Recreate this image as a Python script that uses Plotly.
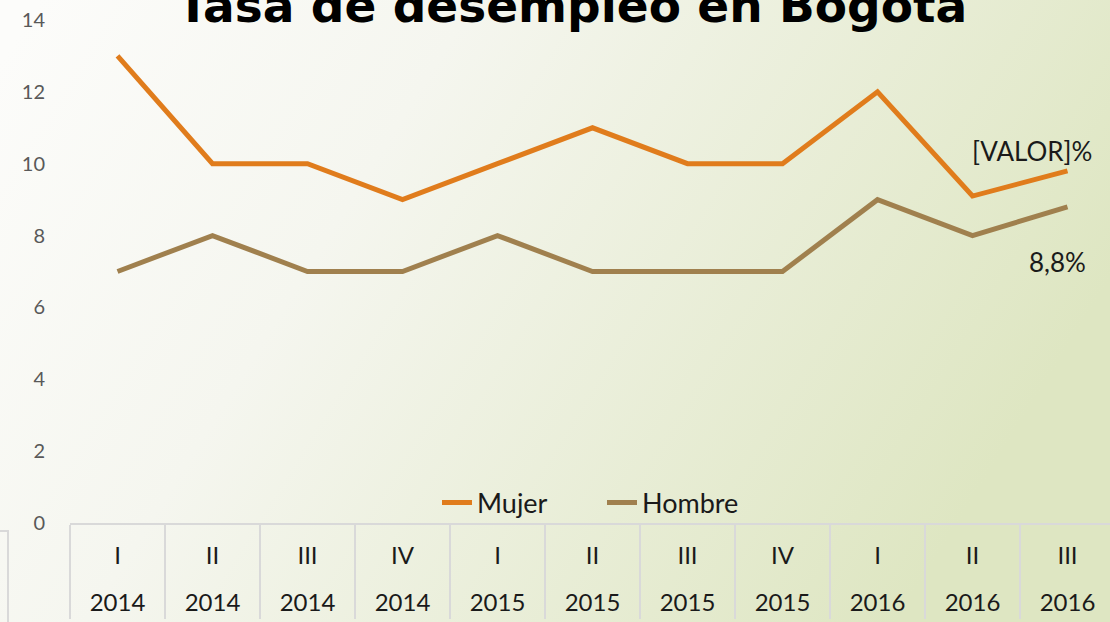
import base64
import plotly.graph_objects as go

# datos
trimestres = ["I", "II", "III", "IV", "I", "II", "III", "IV", "I", "II", "III"]
anios = ["2014", "2014", "2014", "2014", "2015", "2015", "2015", "2015", "2016", "2016", "2016"]
mujer = [13, 10, 10, 9, 10, 11, 10, 10, 12, 9.1, 9.8]
hombre = [7, 8, 7, 7, 8, 7, 7, 7, 9, 8, 8.8]
etiqueta_mujer = "[VALOR]%"
etiqueta_hombre = "8,8%"

# claves unicas por trimestre
claves = [f"{t} {a}" for t, a in zip(trimestres, anios)]

W, H = 1110, 622
FONT = "Lato"

# fondo degradado blanco -> verde claro
svg = (
    '<svg xmlns="http://www.w3.org/2000/svg" width="100" height="100" preserveAspectRatio="none">'
    '<defs><linearGradient id="g" x1="0" y1="0.1" x2="1" y2="0.45">'
    '<stop offset="0" stop-color="#fcfcfa"/>'
    '<stop offset="0.35" stop-color="#f5f6ef"/>'
    '<stop offset="1" stop-color="#dee6c2"/>'
    '</linearGradient></defs>'
    '<rect width="100" height="100" fill="url(#g)"/></svg>'
)
fondo = "data:image/svg+xml;base64," + base64.b64encode(svg.encode()).decode()

fig = go.Figure()
fig.add_trace(go.Scatter(x=claves, y=mujer, name="Mujer", mode="lines",
                         line=dict(color="#e07c1c", width=5)))
fig.add_trace(go.Scatter(x=claves, y=hombre, name="Hombre", mode="lines", xaxis="x2",
                         line=dict(color="#a0804e", width=5)))

fig.add_annotation(x=claves[-1], y=mujer[-1], text=etiqueta_mujer, showarrow=False,
                   xanchor="center", yanchor="middle", xshift=-36, yshift=20,
                   font=dict(family=FONT, size=26, color="#1a1a1a"))
fig.add_annotation(x=claves[-1], y=hombre[-1], text=etiqueta_hombre, showarrow=False,
                   xref="x2", xanchor="center", yanchor="middle", xshift=-10, yshift=-55,
                   font=dict(family=FONT, size=26, color="#1a1a1a"))

# titulo (cortado arriba como en la imagen)
fig.add_annotation(xref="paper", yref="paper", x=572 / W, y=1, yanchor="middle",
                   xanchor="center", text="<b>Tasa de desempleo en Bogotá</b>",
                   showarrow=False, yshift=-5,
                   font=dict(family="DejaVu Sans", size=47, color="#000000"))

x0 = 70 / W
rango_x = [-0.5, -0.5 + (W - 70) / 95]
eje_x = dict(domain=[x0, 1], range=rango_x, automargin=False, showgrid=False,
             zeroline=False, type="category", categoryorder="array", categoryarray=claves,
             tickmode="array", tickvals=claves)

fig.update_layout(
    width=W, height=H,
    margin=dict(l=0, r=0, t=0, b=0),
    paper_bgcolor="#f7f7f2",
    plot_bgcolor="rgba(0,0,0,0)",
    images=[dict(source=fondo, xref="paper", yref="paper", x=0, y=1, sizex=1, sizey=1,
                 xanchor="left", yanchor="top", sizing="stretch", layer="below")],
    showlegend=True,
    legend=dict(orientation="h", x=437 / W, xanchor="left", y=(H - 503) / H,
                yanchor="middle", bgcolor="rgba(0,0,0,0)", entrywidth=120,
                font=dict(family=FONT, size=27, color="#1a1a1a")),
    xaxis=dict(**eje_x, ticktext=trimestres, showline=True, linecolor="#d9d9d9",
               linewidth=2, ticks="outside", tickson="boundaries", ticklen=94,
               tickcolor="#d9d9d9", tickwidth=2, ticklabelstandoff=10,
               tickfont=dict(family=FONT, size=24, color="#1a1a1a")),
    xaxis2=dict(**eje_x, ticktext=anios, overlaying="x", anchor="y", side="bottom",
                showline=False, ticks="", ticklabelstandoff=63,
                tickfont=dict(family=FONT, size=24, color="#1a1a1a")),
    yaxis=dict(domain=[(H - 523) / H, (H - 20) / H], range=[0, 14], dtick=2,
               automargin=False, showgrid=False, zeroline=False, showline=False,
               ticks="", ticklabelstandoff=24,
               tickfont=dict(family=FONT, size=20, color="#595959")),
    shapes=[dict(type="path", xref="paper", yref="paper", layer="below",
                 path=f"M 0 {(H - 531) / H} L {8 / W} {(H - 531) / H} L {8 / W} 0",
                 line=dict(color="#d9d9d9", width=2))],
)

fig.write_html("out.html", config={"displayModeBar": False},
               post_script="document.body.style.margin='0';")
